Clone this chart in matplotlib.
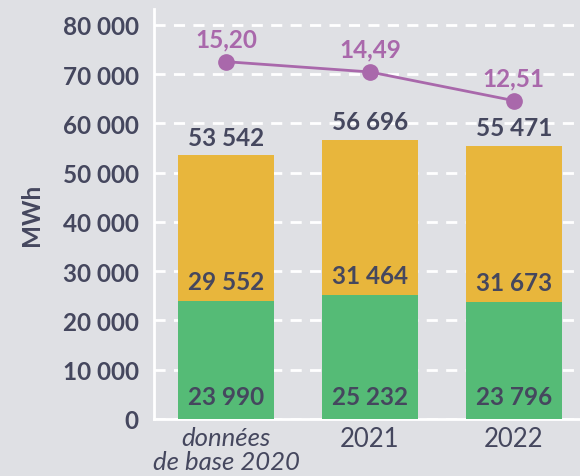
import matplotlib.pyplot as plt
from matplotlib.ticker import FuncFormatter

# Données
categories = ['données\nde base 2020', '2021', '2022']
vert = [23990, 25232, 23796]
jaune = [29552, 31464, 31673]
totaux = [53542, 56696, 55471]
ratio = [15.20, 14.49, 12.51]

fond = '#dfe0e4'
c_vert = '#55bb76'
c_jaune = '#e8b63c'
c_violet = '#a968ab'
c_texte = '#45475e'
police = 'Lato'
taille = 17.5

fig = plt.figure(figsize=(5.8, 4.77), dpi=100, facecolor=fond)
ax = fig.add_axes([154 / 580, 57 / 477, 1 - 154 / 580, 410 / 477])
ax.set_facecolor(fond)

x = list(range(len(categories)))
larg = 0.667
ax.bar(x, vert, width=larg, color=c_vert, zorder=3)
ax.bar(x, jaune, width=larg, bottom=vert, color=c_jaune, zorder=3)

ax.set_xlim(-0.5, 2.46)
ax.set_ylim(0, 83200)
ax.set_yticks(range(0, 80001, 10000))
ax.yaxis.set_major_formatter(FuncFormatter(lambda v, p: f'{int(v):,}'.replace(',', ' ')))
ax.grid(axis='y', color='white', linestyle=(0, (4, 3)), linewidth=2, zorder=1)
ax.tick_params(length=0, pad=11)
for s in ['top', 'right']:
    ax.spines[s].set_visible(False)
for s in ['left', 'bottom']:
    ax.spines[s].set_color('white')
    ax.spines[s].set_linewidth(2)

for lab in ax.get_yticklabels():
    lab.set_fontfamily(police)
    lab.set_fontweight('bold')
    lab.set_fontsize(taille)
    lab.set_color(c_texte)

ax.set_xticks(x)
ax.set_xticklabels(categories, fontfamily=police, fontsize=18.5, color=c_texte, linespacing=1.05)
ax.get_xticklabels()[0].set_fontstyle('italic')
ax.tick_params(axis='x', pad=5)

ax.set_ylabel('MWh', fontfamily=police, fontweight='bold', fontsize=taille, color=c_texte, labelpad=14)

def fmt(v):
    return f'{v:,}'.replace(',', ' ')

kw = dict(ha='center', va='center', fontfamily=police, fontweight='bold', fontsize=taille,
          color=c_texte, textcoords='offset points', zorder=5)
for i in x:
    ax.annotate(fmt(vert[i]), (i, 0), xytext=(0, 16), **kw)
    ax.annotate(fmt(jaune[i]), (i, vert[i]), xytext=(0, 14), **kw)
    ax.annotate(fmt(totaux[i]), (i, vert[i] + jaune[i]), xytext=(0, 13), **kw)

# Indicateur sur un axe secondaire masqué
ax2 = ax.twinx()
ax2.set_ylim(-9.49, 18.84)
ax2.axis('off')
ax2.plot(x, ratio, color=c_violet, linewidth=2, marker='o', markersize=11, zorder=4)
for i in x:
    ax2.annotate(f'{ratio[i]:.2f}'.replace('.', ','), (i, ratio[i]), xytext=(0, 16.5),
                 ha='center', va='center', fontfamily=police, fontweight='bold',
                 fontsize=taille, color=c_violet, textcoords='offset points')

fig.savefig('out.png', dpi=100, facecolor=fond)
